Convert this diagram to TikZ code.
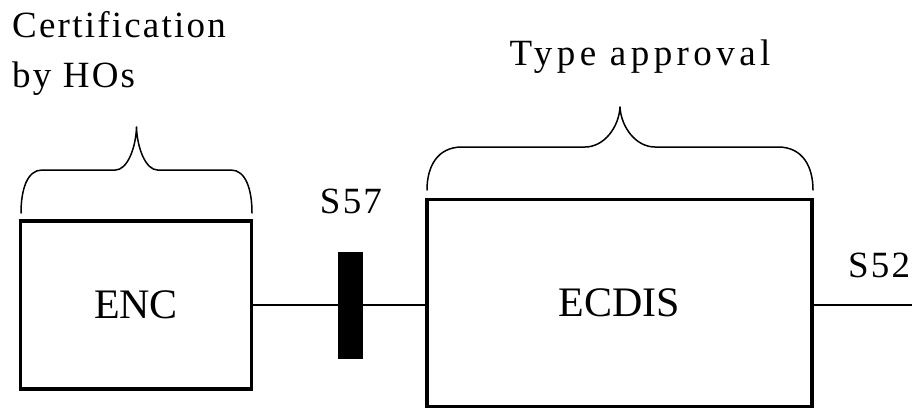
\documentclass[tikz,border=0pt]{standalone}
\usepackage{fontspec}
\setmainfont{Liberation Serif}
\newfontfamily\spacedfont[LetterSpace=6]{Liberation Serif}
\newfontfamily\widefont[LetterSpace=12]{Liberation Serif}
\newcommand\drawmybrace[6]{% x1 x2 ybot ymid ytip curvewidth
  \pgfmathsetmacro\xm{(#1+#2)/2}%
  \pgfmathsetmacro\ye{#4+0.45*(#3-#4)}%
  \pgfmathsetmacro\yt{#4-0.5*(#4-#5)}%
  \draw[bracestyle] (#1,#3) .. controls (#1,\ye) and (#1+0.3*#6,#4) .. (#1+#6,#4)
    -- (\xm-#6,#4) .. controls (\xm-0.45*#6,#4) and (\xm-0.03*#6,\yt) .. (\xm,#5)
    .. controls (\xm+0.03*#6,\yt) and (\xm+0.45*#6,#4) .. (\xm+#6,#4)
    -- (#2-#6,#4) .. controls (#2-0.3*#6,#4) and (#2,\ye) .. (#2,#3);
}
\begin{document}
\begin{tikzpicture}[x=1pt,y=-1pt,
  box/.style={draw, line width=3.8pt, inner sep=0pt, font=\fontsize{42}{46}\selectfont},
  lbl/.style={inner sep=0pt, font=\spacedfont\fontsize{37}{40}\selectfont},
  bracestyle/.style={line width=1.5pt, line join=round, line cap=round},
  conn/.style={line width=1.5pt}]
\useasboundingbox (0,0) rectangle (912,410);
\fill[white] (0,0) rectangle (912,410);
\node[box, minimum width=231pt, minimum height=168pt] (enc) at (136,305) {ENC};
\node[box, minimum width=385pt, minimum height=207pt] (ecdis) at (619.5,303) {ECDIS};
\node[fill=black, inner sep=0pt, minimum width=25pt, minimum height=107pt] (bar) at (350.5,305) {};
\coordinate (out) at (912,305);
\draw[conn] (enc.east |- bar) -- (bar.west);
\draw[conn] (bar.east) -- (ecdis.west |- bar);
\draw[conn] (ecdis.east |- bar) -- (out);
\node[lbl, anchor=base] (s57) at (351,213) {S57};
\node[lbl, anchor=base west] (s52) at (848,277) {S52};
\node[lbl, anchor=base west] (cert) at (12,37) {Certification};
\node[lbl, anchor=base west] (byho) at (12,87) {by HOs};
\node[lbl, font=\widefont\fontsize{37}{40}\selectfont, anchor=base] (ta) at (640,65) {Type approval};
\drawmybrace{21}{252}{213}{170}{127}{21}
\drawmybrace{427}{813}{190}{147}{107}{35}
\end{tikzpicture}
\end{document}
